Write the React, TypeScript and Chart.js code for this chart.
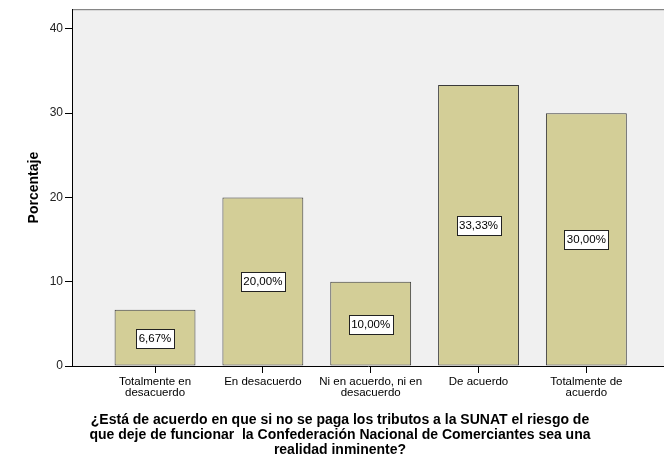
import React, { useEffect, useRef } from 'react';
import { Chart, registerables } from 'chart.js';

Chart.register(...registerables);

const categories: string[][] = [
  ['Totalmente en', 'desacuerdo'],
  ['En desacuerdo'],
  ['Ni en acuerdo, ni en', 'desacuerdo'],
  ['De acuerdo'],
  ['Totalmente de', 'acuerdo'],
];
const percentages: number[] = [6.67, 20.0, 10.0, 33.33, 30.0];
const valueLabels: string[] = ['6,67%', '20,00%', '10,00%', '33,33%', '30,00%'];
const yTicks: number[] = [0, 10, 20, 30, 40];
const yAxisTitle = 'Porcentaje';
const xAxisTitle: string[] = [
  '¿Está de acuerdo en que si no se paga los tributos a la SUNAT el riesgo de',
  'que deje de funcionar  la Confederación Nacional de Comerciantes sea una',
  'realidad inminente?',
];

const FONT = 'Arial, "Liberation Sans", Helvetica, sans-serif';

const plotBackground = {
  id: 'plotBackground',
  beforeDraw(chart: any) {
    const { ctx, chartArea } = chart;
    if (!chartArea) return;
    ctx.save();
    ctx.fillStyle = '#f0f0f0';
    ctx.fillRect(chartArea.left, chartArea.top, chartArea.right - chartArea.left, chartArea.bottom - chartArea.top);
    ctx.strokeStyle = '#6e6e6e';
    ctx.lineWidth = 1;
    ctx.beginPath();
    ctx.moveTo(chartArea.left, chartArea.top + 0.5);
    ctx.lineTo(chartArea.right, chartArea.top + 0.5);
    ctx.stroke();
    ctx.restore();
  },
};

const barValueLabels = {
  id: 'barValueLabels',
  afterDatasetsDraw(chart: any) {
    const { ctx } = chart;
    const meta = chart.getDatasetMeta(0);
    ctx.save();
    ctx.font = `11.5px ${FONT}`;
    ctx.textAlign = 'center';
    ctx.textBaseline = 'middle';
    meta.data.forEach((bar: any, i: number) => {
      const { x, y, base } = bar.getProps(['x', 'y', 'base'], true);
      const cy = Math.round((y + base) / 2);
      const text = valueLabels[i];
      const w = Math.round(ctx.measureText(text).width) + 5;
      const h = 19;
      const left = Math.round(x - w / 2) + 0.5;
      const top = Math.round(cy - h / 2) + 0.5;
      ctx.fillStyle = '#ffffff';
      ctx.fillRect(left, top, w, h);
      ctx.strokeStyle = '#222222';
      ctx.lineWidth = 1;
      ctx.strokeRect(left, top, w, h);
      ctx.fillStyle = '#000000';
      ctx.fillText(text, x, cy + 1);
    });
    ctx.restore();
  },
};

export default function App() {
  const canvasRef = useRef<HTMLCanvasElement | null>(null);

  useEffect(() => {
    document.body.style.margin = '0';
    const canvas = canvasRef.current;
    if (!canvas) return;
    const chart = new Chart(canvas, {
      type: 'bar',
      data: {
        datasets: [
          {
            data: percentages.map((v, i) => ({ x: i, y: v })),
            backgroundColor: '#d3ce97',
            borderColor: '#3a3a3a',
            borderWidth: 1,
            borderSkipped: false,
            barPercentage: 0.75,
            categoryPercentage: 1,
          },
        ],
      },
      options: {
        animation: false,
        responsive: false,
        devicePixelRatio: 1,
        layout: { padding: { left: 16, right: 0, top: 8, bottom: 0 } },
        plugins: {
          legend: { display: false },
          tooltip: { enabled: false },
          title: {
            display: true,
            position: 'bottom',
            text: xAxisTitle,
            color: '#000000',
            font: { family: FONT, size: 14, weight: 'bold', lineHeight: '15px' },
            padding: { top: 4, bottom: 11.5 },
          },
        },
        scales: {
          x: {
            type: 'linear',
            min: -0.77,
            max: 4.72,
            offset: false,
            afterBuildTicks: (s: any) => {
              s.ticks = categories.map((_, i) => ({ value: i }));
            },
            afterFit: (s: any) => {
              s.height = 42.5;
            },
            ticks: {
              autoSkip: false,
              maxRotation: 0,
              minRotation: 0,
              padding: 3,
              color: '#000000',
              font: { family: FONT, size: 11.5, lineHeight: 0.95 },
              callback: (_v: any, index: number) => categories[index] ?? '',
            },
            grid: { offset: false, drawOnChartArea: false, drawTicks: true, tickLength: 7, color: '#000000' },
            border: { display: true, color: '#000000', width: 1 },
          },
          y: {
            type: 'linear',
            min: 0,
            max: 42.33,
            afterBuildTicks: (s: any) => {
              s.ticks = yTicks.map((v) => ({ value: v }));
            },
            afterFit: (s: any) => {
              s.width = 56;
            },
            ticks: {
              padding: 2,
              color: '#222222',
              font: { family: FONT, size: 12 },
            },
            grid: { drawOnChartArea: false, drawTicks: true, tickLength: 7, color: '#000000' },
            border: { display: true, color: '#000000', width: 1 },
            title: {
              display: true,
              text: yAxisTitle,
              color: '#000000',
              font: { family: FONT, size: 14, weight: 'bold' },
              padding: { top: 10, bottom: 0 },
            },
          },
        },
      },
      plugins: [plotBackground, barValueLabels],
    } as any);
    return () => chart.destroy();
  }, []);

  return (
    <div style={{ width: 664, height: 469, position: 'relative', background: '#ffffff' }}>
      <canvas ref={canvasRef} width={664} height={469} style={{ display: 'block' }} />
    </div>
  );
}
